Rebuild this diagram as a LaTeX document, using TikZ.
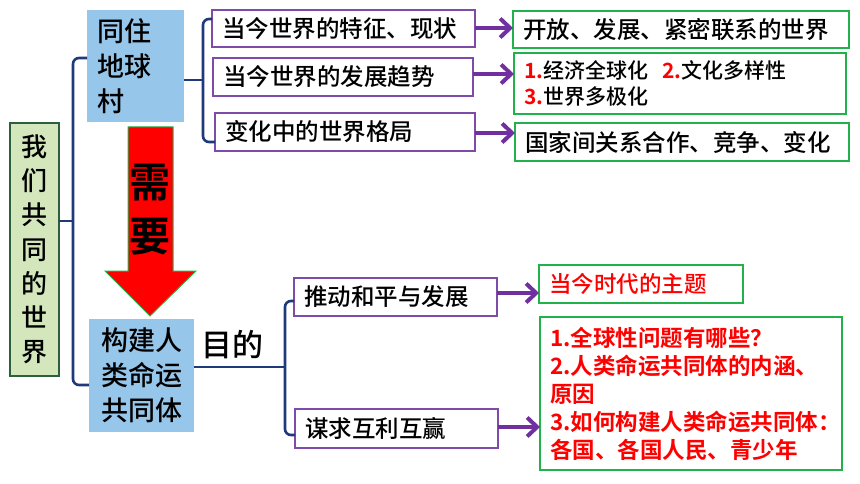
\documentclass[tikz,border=0pt]{standalone}
\usepackage{fontspec}
\newfontfamily\cjk{Noto Sans CJK SC}[UprightFont={* Medium}, BoldFont={* Bold}]
\usepackage{xcolor}
\usepackage{tikz}
\usetikzlibrary{arrows.meta, positioning, calc}
\definecolor{topicblue}{HTML}{97C6EB}
\definecolor{worldfill}{HTML}{D3E6BC}
\definecolor{worlddraw}{HTML}{2D5F3F}
\definecolor{itempurple}{HTML}{7F4BA8}
\definecolor{arrowpurple}{HTML}{7030A0}
\definecolor{ansgreen}{HTML}{22B24C}
\definecolor{linkblue}{HTML}{1F3A7A}
\definecolor{hotred}{HTML}{FF0000}

\begin{document}
\begin{tikzpicture}[x=1pt, y=-1pt,
  every node/.style={font=\cjk},
  topic/.style={fill=topicblue, inner sep=0pt, outer sep=0pt, anchor=north west,
                font=\cjk\fontsize{27}{35}\selectfont},
  item/.style={draw=itempurple, line width=1.3pt, fill=white, anchor=north west,
               text width=#1, inner xsep=10pt, inner ysep=1pt, outer sep=0pt,
               align=left, font=\cjk\fontsize{23.5}{28}\selectfont},
  answer/.style={item=#1, draw=ansgreen, line width=1.6pt},
  link/.style={draw=linkblue, line width=2.6pt, rounded corners=6pt},
  point/.style={draw=arrowpurple, line width=4.5pt,
                -{Straight Barb[length=10pt, width=19pt, line width=4pt]}},
]
\useasboundingbox (0,0) rectangle (860,484);

% left column
\node[fill=worldfill, draw=worlddraw, line width=1.6pt, anchor=north west,
      minimum width=49, minimum height=253, inner sep=0pt, outer sep=0pt,
      align=center, font=\cjk\fontsize{26}{34.2}\selectfont]
  (world) at (10,123) {我\\们\\共\\同\\的\\世\\界};
\node[topic, minimum width=97, minimum height=112, text width=77,
      inner xsep=10pt, align=left] (village) at (87,10) {同住\\地球\\村};
\node[topic, minimum width=105, minimum height=113, align=center]
  (community) at (89,319) {构建人\\类命运\\共同体};

% red arrow
\filldraw[fill=hotred, draw=ansgreen, line width=1pt]
  (128,127) -- (173,127) -- (173,271) -- (196,271) -- (150,316)
  -- (105,271) -- (128,271) -- cycle;
\node[align=center, font=\cjk\bfseries\fontsize{41}{54}\selectfont]
  (need) at (150,210) {需\\要};

\node[font=\cjk\fontsize{31}{31}\selectfont] (goal) at (232,345) {目的};

% upper branch
\node[item=243, minimum height=37] (t1) at (212,10)  {当今世界的特征、现状};
\node[item=240, minimum height=38] (t2) at (213,58)  {当今世界的发展趋势};
\node[item=240, minimum height=38] (t3) at (215,113) {变化中的世界格局};

\node[answer=316, minimum height=37] (a1) at (513,11) {开放、发展、紧密联系的世界};
\node[answer=312, minimum height=61, font=\cjk\fontsize{21}{26}\selectfont]
  (a2) at (514,53)
  {\textcolor{hotred}{\bfseries 1.}经济全球化\hspace{14pt}\textcolor{hotred}{\bfseries 2.}文化多样性\\
   \textcolor{hotred}{\bfseries 3.}世界多极化};
\node[answer=314, minimum height=38] (a3) at (515,123) {国家间关系合作、竞争、变化};

% lower branch
\node[item=183, minimum height=38] (p1) at (294,278) {推动和平与发展};
\node[item=183, minimum height=39] (p2) at (295,409) {谋求互利互赢};

\node[answer=184, minimum height=38, text=hotred,
      font=\cjk\fontsize{22.5}{28}\selectfont] (b1) at (539,265) {当今时代的主题};
\node[answer=282, minimum height=153, text=hotred,
      font=\cjk\bfseries\fontsize{22.5}{28}\selectfont] (b2) at (540,317)
  {1.全球性问题有哪些？\\2.人类命运共同体的内涵、\\原因\\3.如何构建人类命运共同体：\\各国、各国人民、青少年};

% brackets
\coordinate (wj) at (73,221);
\coordinate (vj) at (203,80);
\coordinate (cj) at (285,367);
\draw[link] (world.east |- wj) -- (wj);
\draw[link] (village.west |- 0,58) -| (wj) |- (community.west |- 0,385);
\draw[link] (village.east |- vj) -- (vj);
\draw[link] (t1.west |- 0,19) -| (vj) |- (t3.west |- 0,142);
\draw[link] (community.east |- cj) -- (cj);
\draw[link] (p1.west |- 0,301) -| (cj) |- (p2.west |- 0,435);

% arrows
\draw[point] (t1.east |- 0,28)  -- (a1.west |- 0,28);
\draw[point] (t2.east |- 0,74)  -- (a2.west |- 0,74);
\draw[point] (t3.east |- 0,133) -- (a3.west |- 0,133);
\draw[point] (p1.east |- 0,293) -- (b1.west |- 0,293);
\draw[point] (p2.east |- 0,427) -- (b2.west |- 0,427);
\end{tikzpicture}
\end{document}
